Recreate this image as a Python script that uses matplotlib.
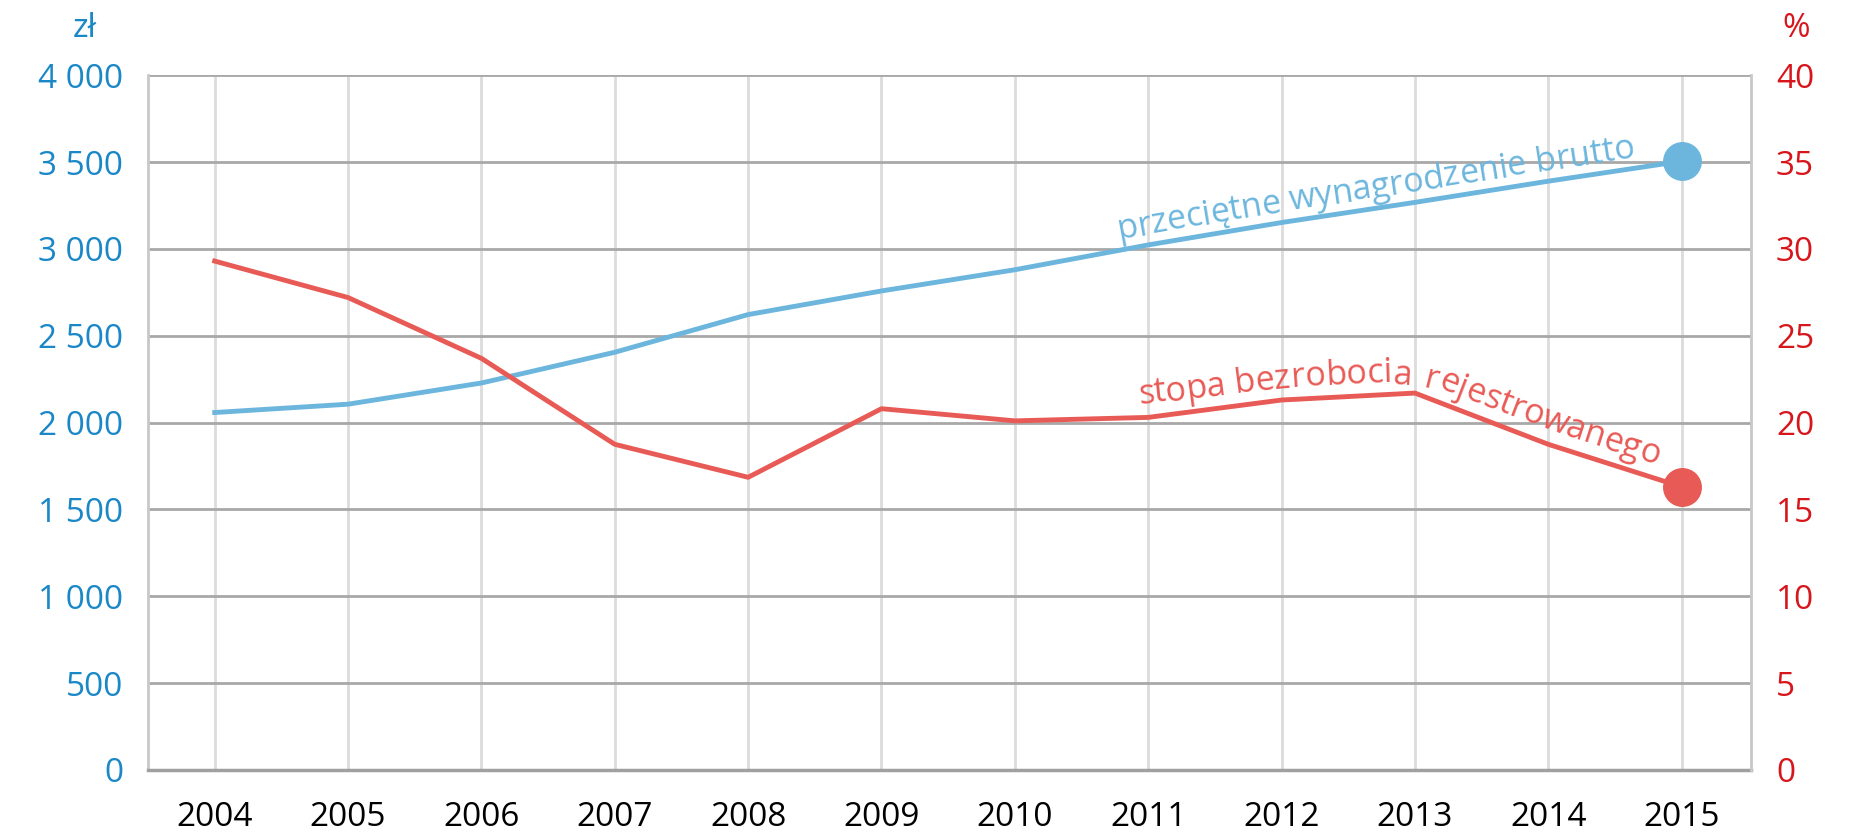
import numpy as np
import matplotlib
matplotlib.use('Agg')
import matplotlib.pyplot as plt
from matplotlib.font_manager import FontProperties

#%% Data
years = [2004, 2005, 2006, 2007, 2008, 2009, 2010, 2011, 2012, 2013, 2014, 2015]
wage = [2058, 2106, 2228, 2405, 2622, 2758, 2880, 3023, 3152, 3268, 3390, 3505]  # zł
unemployment = [29.3, 27.2, 23.7, 18.75, 16.85, 20.8, 20.1, 20.3, 21.3, 21.7, 18.75, 16.3]  # %

left_ticks = [0, 500, 1000, 1500, 2000, 2500, 3000, 3500, 4000]
left_labels = ['0', '500', '1 000', '1 500', '2 000', '2 500', '3 000', '3 500', '4 000']
right_ticks = [0, 5, 10, 15, 20, 25, 30, 35, 40]

#%% Style
BLUE = '#6cb6dd'
RED = '#e85a55'
BLUE_TXT = '#1a87c7'
RED_TXT = '#d7161c'
plt.rcParams['font.family'] = ['Open Sans', 'DejaVu Sans']

fig = plt.figure(figsize=(18.5, 8.36), dpi=100)
ax = fig.add_axes([0.080, 0.079, 0.8665, 0.831])
ax2 = ax.twinx()

# lines + end markers
ax.plot(years, wage, color=BLUE, lw=3.5, solid_joinstyle='round', zorder=3)
ax.plot(years[-1], wage[-1], 'o', color=BLUE, ms=27, clip_on=False, zorder=4)
ax2.plot(years, unemployment, color=RED, lw=3.5, solid_joinstyle='round', zorder=3)
ax2.plot(years[-1], unemployment[-1], 'o', color=RED, ms=27, clip_on=False, zorder=4)

ax.set_xlim(2003.5, 2015.52)
ax.set_ylim(0, 4000)
ax2.set_ylim(0, 40)

ax.set_xticks(years)
ax.set_xticklabels([str(y) for y in years])
ax.set_yticks(left_ticks)
ax.set_yticklabels(left_labels)
ax2.set_yticks(right_ticks)
ax2.set_yticklabels([str(t) for t in right_ticks])

ax.tick_params(axis='y', length=0, pad=18, labelsize=24, labelcolor=BLUE_TXT)
ax.tick_params(axis='x', length=0, pad=22, labelsize=24, labelcolor='black')
ax2.tick_params(axis='y', length=0, pad=18, labelsize=24, labelcolor=RED_TXT)

# grid
ax.set_axisbelow(True)
ax.yaxis.grid(True, color='#a8a8a8', lw=2)
ax.xaxis.grid(True, color='#dcdcdc', lw=2)

for a in (ax, ax2):
    for s in a.spines.values():
        s.set_visible(False)
ax.spines['left'].set_visible(True)
ax.spines['left'].set_color('#c8c8c8')
ax.spines['left'].set_linewidth(2)
ax.spines['bottom'].set_visible(True)
ax.spines['bottom'].set_color('#a0a0a0')
ax.spines['bottom'].set_linewidth(2.5)
ax2.spines['right'].set_visible(True)
ax2.spines['right'].set_color('#c8c8c8')
ax2.spines['right'].set_linewidth(2)

fig.text(0.046, 0.966, 'zł', color=BLUE_TXT, fontsize=24, ha='center', va='center')
fig.text(0.971, 0.966, '%', color=RED_TXT, fontsize=24, ha='center', va='center')


#%% Text along a line
def text_on_line(a, xs, ys, s, x_start, offset, color, size, window=12):
    fig.canvas.draw()
    r = fig.canvas.get_renderer()
    fp = FontProperties(family=['Open Sans', 'DejaVu Sans'], size=size)
    pts = a.transData.transform(np.column_stack([xs, ys]))
    seg = np.diff(pts, axis=0)
    seglen = np.hypot(seg[:, 0], seg[:, 1])
    cum = np.concatenate([[0], np.cumsum(seglen)])

    def point_at(d):
        d = np.clip(d, 0, cum[-1] - 1e-6)
        i = np.searchsorted(cum, d, side='right') - 1
        t = (d - cum[i]) / seglen[i]
        return pts[i] + t * seg[i]

    # arc length of starting x
    x0 = a.transData.transform((x_start, ys[0]))[0]
    i = np.searchsorted(pts[:, 0], x0) - 1
    d = cum[i] + (x0 - pts[i, 0]) / seg[i, 0] * seglen[i]

    ref = r.get_text_width_height_descent('xx', fp, ismath=False)[0]
    for ch in s:
        w = r.get_text_width_height_descent('x' + ch + 'x', fp, ismath=False)[0] - ref
        c = d + w / 2
        p1, p2 = point_at(c - window), point_at(c + window)
        ang = np.arctan2(p2[1] - p1[1], p2[0] - p1[0])
        # place on a smoothed centre line (mid of the window chord)
        p = (p1 + p2) / 2
        n = np.array([-np.sin(ang), np.cos(ang)])
        q = p + offset * n
        fig.text(q[0], q[1], ch, transform=None, color=color, fontproperties=fp,
                 rotation=np.degrees(ang), rotation_mode='anchor',
                 ha='center', va='baseline')
        d += w


text_on_line(ax, years, wage, 'przeciętne wynagrodzenie brutto', 2010.79, 11, BLUE, 24.5)
text_on_line(ax2, years, unemployment, 'stopa bezrobocia rejestrowanego', 2010.94, 13, RED, 24.5, window=30)

fig.savefig('out.png', dpi=100)
